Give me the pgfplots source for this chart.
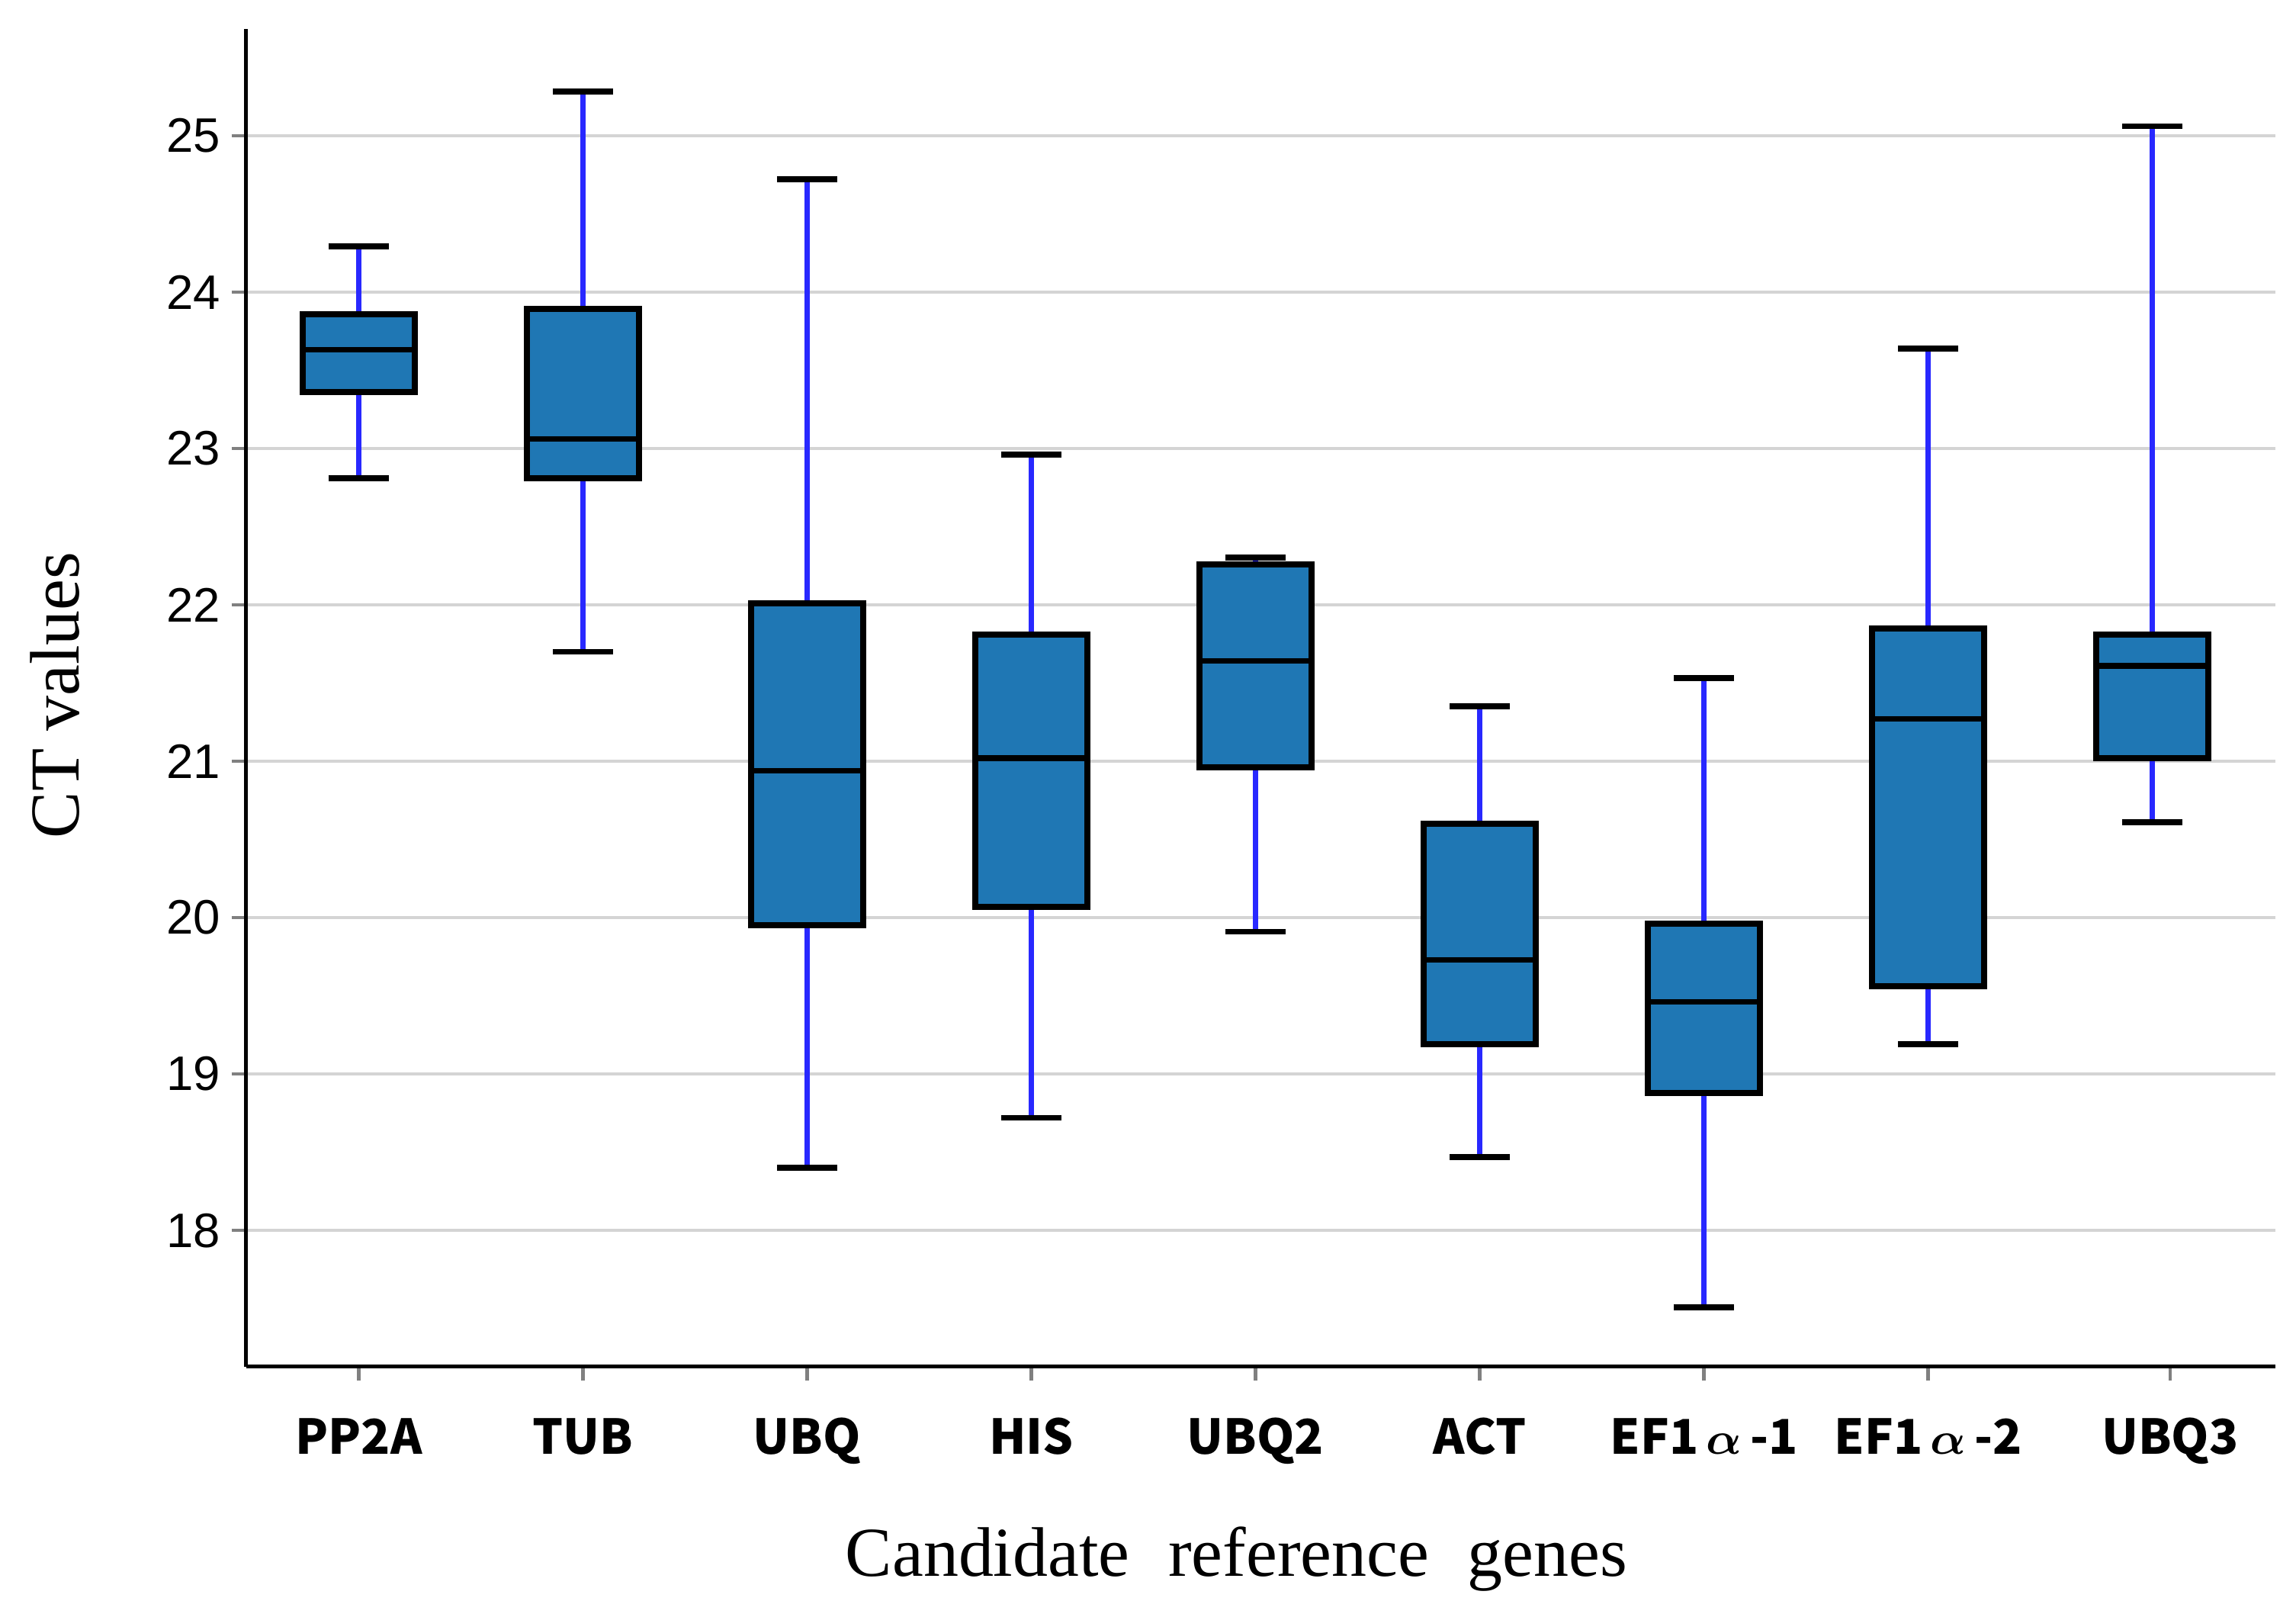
\documentclass[border=0pt]{standalone}
\usepackage{fontspec}
\setmainfont{Liberation Serif}
\newfontfamily\arialf{Liberation Sans}
\newfontfamily\cjk{Noto Sans CJK SC}
\usepackage{pgfplots}
\pgfplotsset{compat=1.18}
\usepgfplotslibrary{statistics}

\definecolor{boxblue}{RGB}{31,119,180}
\definecolor{whiskblue}{RGB}{40,40,255}
\definecolor{gridgray}{RGB}{212,212,212}

\pgfplotsset{
  /pgfplots/boxplot/draw direction=y,
  /pgfplots/boxplot/box extend=0.5,
  /pgfplots/boxplot/whisker extend=0.27,
  /pgfplots/boxplot/every box/.style={fill=boxblue, draw=black, line width=1.2pt},
  /pgfplots/boxplot/every median/.style={draw=black, line width=1.1pt},
  /pgfplots/boxplot/draw/lower whisker/.code={%
    \draw[whiskblue, line width=1.1pt]
      (boxplot box cs:\pgfplotsboxplotvalue{lower whisker},0.5)
      -- (boxplot box cs:\pgfplotsboxplotvalue{lower quartile},0.5);
    \draw[black, line width=1.2pt]
      (boxplot whisker cs:\pgfplotsboxplotvalue{lower whisker},0)
      -- (boxplot whisker cs:\pgfplotsboxplotvalue{lower whisker},1);
  },
  /pgfplots/boxplot/draw/upper whisker/.code={%
    \draw[whiskblue, line width=1.1pt]
      (boxplot box cs:\pgfplotsboxplotvalue{upper whisker},0.5)
      -- (boxplot box cs:\pgfplotsboxplotvalue{upper quartile},0.5);
    \draw[black, line width=1.2pt]
      (boxplot whisker cs:\pgfplotsboxplotvalue{upper whisker},0)
      -- (boxplot whisker cs:\pgfplotsboxplotvalue{upper whisker},1);
  },
  gene/.style n args={6}{boxplot prepared={draw position=#1,
      lower whisker=#2, lower quartile=#3, median=#4,
      upper quartile=#5, upper whisker=#6}},
}

\begin{document}
\begin{tikzpicture}
\begin{axis}[
  at={(0,0)}, anchor=south west,
  scale only axis,
  width=14.143cm, height=9.316cm,
  xmin=-0.503, xmax=8.55,
  ymin=17.13, ymax=25.68,
  axis lines=left,
  axis line style={-, line width=0.8pt},
  ytick={18,...,25},
  xtick={0,1,2,3,4,5,6,7,8.08},
  xticklabels={PP2A,TUB,UBQ,HIS,UBQ2,ACT,EF1\,$\alpha$\,-1,EF1\,$\alpha$\,-2,UBQ3},
  tick align=outside,
  ytick style={line width=0.7pt},
  xtick style={line width=0.7pt},
  major tick length=0.1cm,
  ymajorgrids,
  grid style={gridgray, line width=0.6pt},
  /pgf/number format/assume math mode=true,
  yticklabel style={font=\arialf\fontsize{9.6}{11}\selectfont, inner sep=0pt, anchor=east, xshift=-0.07cm},
  xticklabel style={font=\cjk\bfseries\boldmath\fontsize{9.5}{11}\selectfont, inner sep=0pt, anchor=base, yshift=-0.51cm},
  xlabel={Candidate\hspace{0.55em}reference\hspace{0.55em}genes},
  ylabel={CT values},
  label style={font=\fontsize{13.9}{16}\selectfont},
  xlabel style={at={(axis description cs:0.488,-0.157)}, anchor=base},
  ylabel style={at={(axis description cs:-0.0823,0.502)}, anchor=base},
]
% draw position, lower whisker, Q1, median, Q3, upper whisker
\addplot[gene={0}{22.81}{23.36}{23.63}{23.86}{24.29}] coordinates {}; % PP2A
\addplot[gene={1}{21.70}{22.81}{23.06}{23.89}{25.28}] coordinates {}; % TUB
\addplot[gene={2}{18.40}{19.95}{20.94}{22.01}{24.72}] coordinates {}; % UBQ
\addplot[gene={3}{18.72}{20.07}{21.02}{21.81}{22.96}] coordinates {}; % HIS
\addplot[gene={4}{19.91}{20.96}{21.64}{22.26}{22.30}] coordinates {}; % UBQ2
\addplot[gene={5}{18.47}{19.19}{19.73}{20.60}{21.35}] coordinates {}; % ACT
\addplot[gene={6}{17.51}{18.88}{19.46}{19.96}{21.53}] coordinates {}; % EF1a-1
\addplot[gene={7}{19.19}{19.56}{21.27}{21.85}{23.64}] coordinates {}; % EF1a-2
\addplot[gene={8}{20.61}{21.02}{21.61}{21.81}{25.06}] coordinates {}; % UBQ3
\end{axis}
\pgfresetboundingbox
\path (-1.714,-1.745) rectangle (14.286,9.520);
\end{tikzpicture}
\end{document}
